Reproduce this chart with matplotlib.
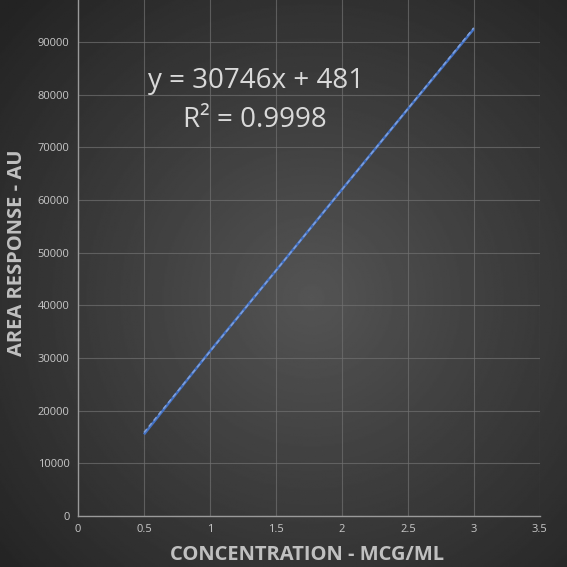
import numpy as np
import matplotlib
matplotlib.use("Agg")
import matplotlib.pyplot as plt

# calibration data
conc = [0.5, 1.0, 1.5, 2.0, 2.5, 3.0]
area = [15500, 31300, 46600, 62000, 77300, 92500]

# trendline from the fit shown on the chart
slope = 30746
intercept = 481
r2 = 0.9998

plt.rcParams['font.family'] = ['Open Sans', 'DejaVu Sans']

fig = plt.figure(figsize=(5.67, 5.67), dpi=100)

# radial gradient background
bg = fig.add_axes([0, 0, 1, 1])
yy, xx = np.mgrid[-1:1:400j, -1:1:400j]
rr = np.sqrt((xx - 0.1) ** 2 + (yy - 0.05) ** 2)
shade = np.clip(0.33 - 0.13 * rr, 0.14, 0.33)
bg.imshow(shade, cmap='gray', vmin=0, vmax=1, extent=[0, 1, 0, 1], aspect='auto')
bg.axis('off')

ax = fig.add_axes([0.1376, 0.09, 0.8144, 0.91])
ax.patch.set_alpha(0)

ax.plot(conc, area, color='#4472c4', lw=1.8, solid_capstyle='butt')
tx = np.array([conc[0], conc[-1]])
ax.plot(tx, slope * tx + intercept, color='#7fa0dc', lw=1.1, ls=(0, (3, 2)))

ax.set_xlim(0, 3.5)
ax.set_ylim(0, 98000)
ax.set_xticks(np.arange(0, 3.51, 0.5))
ax.set_xticklabels(['0', '0.5', '1', '1.5', '2', '2.5', '3', '3.5'])
ax.set_yticks(np.arange(0, 90001, 10000))
ax.grid(True, color='#707070', lw=0.8, alpha=0.7)
ax.set_axisbelow(True)
ax.tick_params(length=0, colors='#c8c8c8', labelsize=8, pad=6)

for s in ['top', 'right']:
    ax.spines[s].set_visible(False)
for s in ['left', 'bottom']:
    ax.spines[s].set_color('#9a9a9a')
    ax.spines[s].set_linewidth(1.0)

fig.text(0.542, 0.013, 'CONCENTRATION - MCG/ML', color='#c0c0c0', fontsize=14.5,
         fontweight='bold', ha='center', va='baseline')
fig.text(0.03, 0.554, 'AREA RESPONSE - AU', color='#c0c0c0', fontsize=14.5,
         fontweight='bold', ha='center', va='center', rotation=90)

fig.text(0.451, 0.857, 'y = %dx + %d' % (slope, intercept), color='#d9d9d9',
         fontsize=20, ha='center', va='center')
fig.text(0.45, 0.788, 'R² = %.4f' % r2, color='#d9d9d9',
         fontsize=20, ha='center', va='center')

fig.savefig('out.png', dpi=100)
